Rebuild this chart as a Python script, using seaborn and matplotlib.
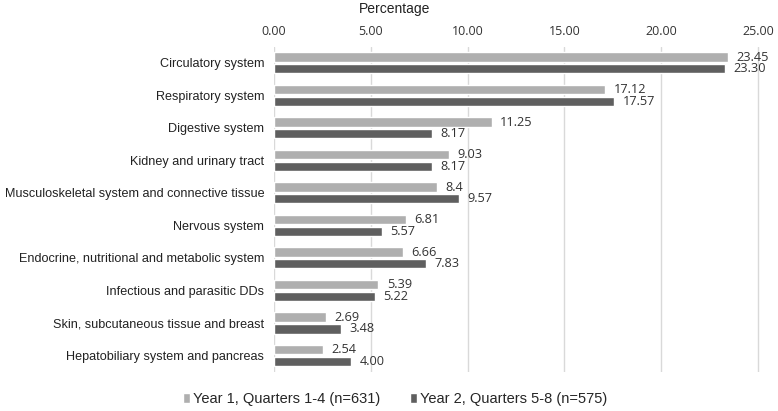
import pandas as pd
import numpy as np
import seaborn as sns
import matplotlib.pyplot as plt

categories = ['Circulatory system', 'Respiratory system', 'Digestive system',
              'Kidney and urinary tract', 'Musculoskeletal system and connective tissue',
              'Nervous system', 'Endocrine, nutritional and metabolic system',
              'Infectious and parasitic DDs', 'Skin, subcutaneous tissue and breast',
              'Hepatobiliary system and pancreas']
year1 = [23.45, 17.12, 11.25, 9.03, 8.4, 6.81, 6.66, 5.39, 2.69, 2.54]
year2 = [23.30, 17.57, 8.17, 8.17, 9.57, 5.57, 7.83, 5.22, 3.48, 4.00]
year1_labels = ['23.45', '17.12', '11.25', '9.03', '8.4', '6.81', '6.66', '5.39', '2.69', '2.54']
year2_labels = ['23.30', '17.57', '8.17', '8.17', '9.57', '5.57', '7.83', '5.22', '3.48', '4.00']
series = ['Year 1, Quarters 1-4 (n=631)', 'Year 2, Quarters 5-8 (n=575)']
xticks = [0, 5, 10, 15, 20, 25]

df = pd.DataFrame({
    'Category': categories * 2,
    'Percentage': year1 + year2,
    'Series': [series[0]] * len(categories) + [series[1]] * len(categories),
})

sns.set_style('white')
plt.rcParams['font.family'] = ['Liberation Sans', 'DejaVu Sans']

fig = plt.figure(figsize=(7.78, 4.11), dpi=100)
ax = fig.add_axes([0.3522, 0.0955, 0.6296, 0.791])

sns.barplot(data=df, y='Category', x='Percentage', hue='Series',
            palette=['#afafaf', '#5f5f5f'], width=0.72, gap=0.2,
            orient='h', ax=ax, legend=True)

for cont, labs in zip(ax.containers, [year1_labels, year2_labels]):
    ax.bar_label(cont, labels=labs, padding=6, fontsize=9.2, color='#333333',
                 family='Open Sans')

ax.set_xlim(0, 25.3)
ax.set_ylim(9.5, -0.5)
ax.set_xticks(xticks)
ax.set_xticklabels([f'{t:.2f}' for t in xticks], fontsize=9, color='#333333',
                   family='Open Sans')
ax.xaxis.tick_top()
ax.tick_params(axis='x', length=0, pad=6)
ax.tick_params(axis='y', length=0, pad=7, labelsize=9.1, labelcolor='#222222')
ax.grid(axis='x', color='#d9d9d9', linewidth=1)
ax.set_axisbelow(True)
for s in ax.spines.values():
    s.set_visible(False)
ax.set_xlabel('')
ax.set_ylabel('')

fig.text(0.507, 0.978, 'Percentage', ha='center', va='center', fontsize=10,
         color='#222222')

handles, labels = ax.get_legend_handles_labels()
ax.get_legend().remove()
fig.legend(handles, labels, loc='center', bbox_to_anchor=(0.508, 0.029), ncol=2,
           frameon=False, fontsize=10.5, handlelength=0.5, handleheight=0.7,
           handletextpad=0.2, columnspacing=2.0, borderpad=0)

fig.savefig('out.png', dpi=100)
